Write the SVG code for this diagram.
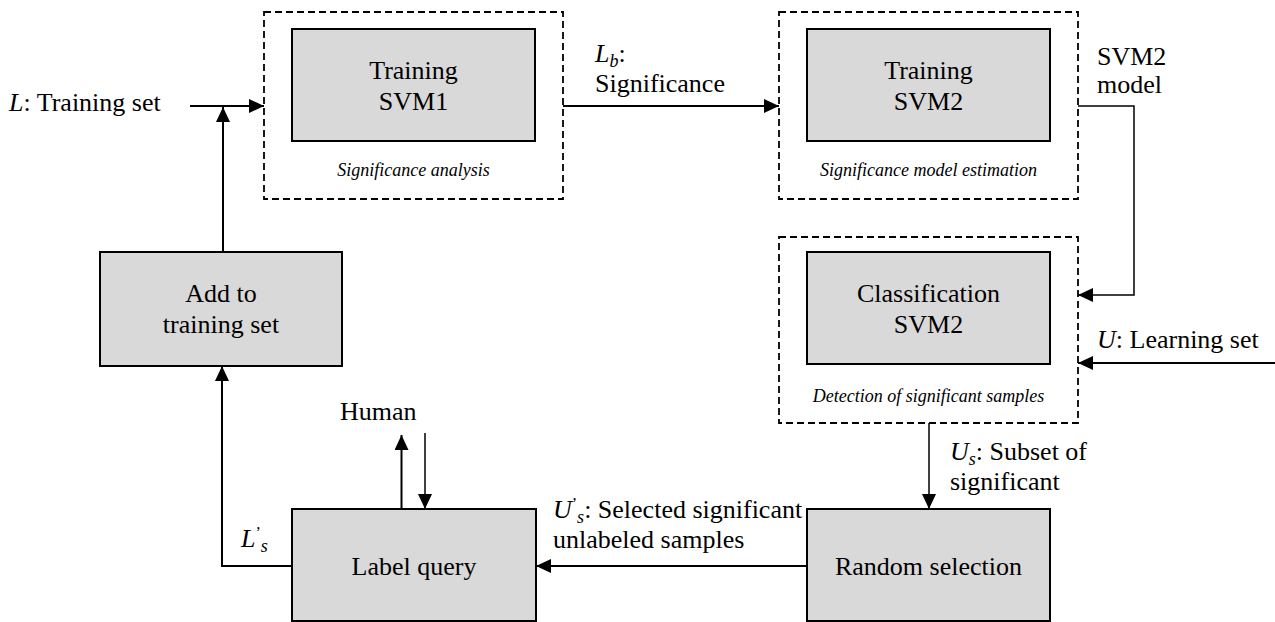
<svg xmlns="http://www.w3.org/2000/svg" width="1275" height="622" viewBox="0 0 1275 622">
<style>
text{font-family:"Liberation Serif","Times New Roman",serif;font-size:26px;fill:#000}
.c{text-anchor:middle}
.cap{font-style:italic;font-size:18px;text-anchor:middle}
.i{font-style:italic}
.box{fill:#d9d9d9;stroke:#000;stroke-width:2}
.dash{fill:none;stroke:#000;stroke-width:1.8;stroke-dasharray:7 4}
.ln{fill:none;stroke:#000;stroke-width:2}
.thin{fill:none;stroke:#000;stroke-width:1.5}
</style>
<defs>
<marker id="ah" viewBox="0 0 15 14" refX="15" refY="7" markerWidth="15" markerHeight="14" markerUnits="userSpaceOnUse" orient="auto">
<path d="M0,0 L15,7 L0,14 Z" fill="#000"/>
</marker>
</defs>
<rect width="1275" height="622" fill="#fff"/>

<g id="svm1">
<rect class="dash" x="264" y="12" width="299" height="187"/>
<rect class="box" x="292" y="29" width="243" height="112"/>
<text class="c" x="413.5" y="79">Training</text>
<text class="c" x="413.5" y="110">SVM1</text>
<text class="cap" x="413.5" y="176">Significance analysis</text>
</g>

<g id="svm2train">
<rect class="dash" x="779" y="12" width="299" height="187"/>
<rect class="box" x="807" y="29" width="243" height="112"/>
<text class="c" x="928.5" y="79">Training</text>
<text class="c" x="928.5" y="110">SVM2</text>
<text class="cap" x="928.5" y="176">Significance model estimation</text>
</g>

<g id="svm2class">
<rect class="dash" x="779" y="237" width="299" height="186"/>
<rect class="box" x="807" y="252" width="243" height="112"/>
<text class="c" x="928.5" y="302">Classification</text>
<text class="c" x="928.5" y="333">SVM2</text>
<text class="cap" x="928.5" y="402">Detection of significant samples</text>
</g>

<g id="addtrain">
<rect class="box" x="100" y="252" width="242" height="114"/>
<text class="c" x="221" y="302">Add to</text>
<text class="c" x="221" y="333">training set</text>
</g>

<g id="labelquery">
<rect class="box" x="292" y="509" width="244" height="112"/>
<text class="c" x="414" y="575">Label query</text>
</g>

<g id="randomsel">
<rect class="box" x="807" y="509" width="243" height="112"/>
<text class="c" x="928.5" y="575">Random selection</text>
</g>

<g id="connectors">
<path class="ln" d="M190,106 H264" marker-end="url(#ah)"/>
<path class="ln" d="M223,252 V107" marker-end="url(#ah)"/>
<path class="ln" d="M563,106 H779" marker-end="url(#ah)"/>
<path class="thin" d="M1078,106 H1134 V295 H1078" marker-end="url(#ah)"/>
<path class="ln" d="M1275,363 H1078" marker-end="url(#ah)"/>
<path class="thin" d="M929,423 V509" marker-end="url(#ah)"/>
<path class="ln" d="M807,566 H536" marker-end="url(#ah)"/>
<path class="ln" d="M292,566 H222 V366" marker-end="url(#ah)"/>
<path class="ln" d="M401.5,509 V435" marker-end="url(#ah)"/>
<path class="thin" d="M425,433 V509" marker-end="url(#ah)"/>
</g>

<g id="labels">
<text x="9" y="111"><tspan class="i">L</tspan>: Training set</text>
<text x="595" y="62"><tspan class="i">L</tspan><tspan class="i" font-size="18" dy="5">b</tspan><tspan dy="-5">:</tspan></text>
<text x="595" y="92">Significance</text>
<text x="1097" y="65">SVM2</text>
<text x="1097" y="93">model</text>
<text x="1097" y="348"><tspan class="i">U</tspan>: Learning set</text>
<text x="950" y="460"><tspan class="i">U</tspan><tspan class="i" font-size="18" dy="5">s</tspan><tspan dy="-5">: Subset of</tspan></text>
<text x="950" y="490">significant</text>
<text x="553" y="518"><tspan class="i">U</tspan><tspan font-size="16" dy="-9">’</tspan><tspan class="i" font-size="18" dy="14">s</tspan><tspan dy="-5">: Selected significant</tspan></text>
<text x="553" y="548">unlabeled samples</text>
<text x="241" y="547"><tspan class="i">L</tspan><tspan font-size="16" dy="-9">’</tspan><tspan class="i" font-size="18" dy="14">s</tspan></text>
<text x="340" y="420">Human</text>
</g>
</svg>
